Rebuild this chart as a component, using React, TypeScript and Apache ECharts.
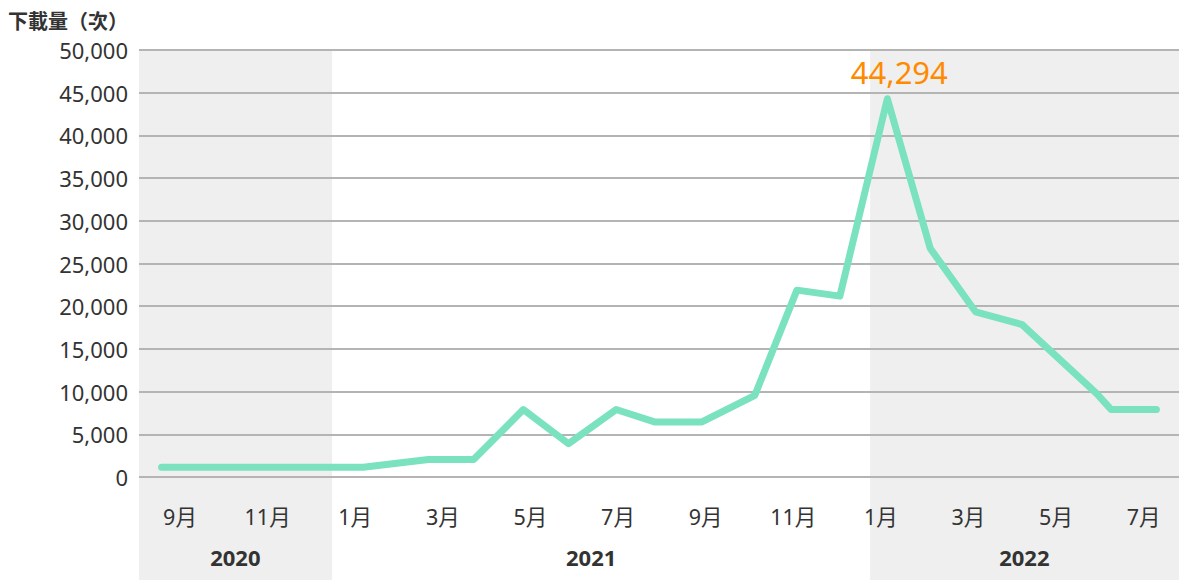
import React, { useEffect, useRef } from "react";
import * as echarts from "echarts";

// ---------------- data ----------------
// month tick labels (every second month, Sep 2020 → Jul 2022)
const MONTH_LABELS = ["9月", "11月", "1月", "3月", "5月", "7月", "9月", "11月", "1月", "3月", "5月", "7月"];
// year labels under the month labels
const YEAR_LABELS = ["2020", "2021", "2022"];
// position of each measured point, in months after Sep 2020 (0 = Sep 2020, 22 = Jul 2022)
const POINT_MONTH = [0, 1, 2, 3, 4.46, 5.9, 6.9, 8, 9, 10.05, 10.9, 11.95, 13.12, 14.05, 15, 16.05, 17, 18, 19.03, 20.68, 21, 22];
// downloads at each point
const DOWNLOADS = [1150, 1150, 1150, 1150, 1150, 2050, 2050, 7900, 3900, 7900, 6450, 6450, 9570, 21880, 21180, 44294, 26760, 19340, 17850, 9770, 7900, 7900];
// y axis
const Y_MIN = 0;
const Y_MAX = 50000;
const Y_STEP = 5000;

// ---------------- layout ----------------
const W = 1179;
const H = 580;
const GRID_LEFT = 139;
const GRID_TOP = 50;
const GRID_BOTTOM_Y = 477;
const GRID_W = W - GRID_LEFT;
const X_MIN = -0.5;
const X_MAX = 22.5;
// shaded year bands (2020 and 2022), in month units of the data axis
const SHADED_SPANS: [number, number][] = [
  [-0.5, 3.77],
  [15.67, 22.5],
];
const YEAR_LABEL_AT = [1.63, 9.5, 19.08];
const MONTH_LABEL_X0 = 180;
const MONTH_LABEL_STEP = 87.6;
const MONTH_AXIS_MIN = -(MONTH_LABEL_X0 - GRID_LEFT) / MONTH_LABEL_STEP;
const MONTH_AXIS_MAX = MONTH_AXIS_MIN + GRID_W / MONTH_LABEL_STEP;

const FONT = "'Noto Sans', 'Noto Sans CJK TC', sans-serif";
const CJK = "'Noto Sans CJK TC', 'Noto Sans', sans-serif";
const TEXT = "#333333";
const MINT = "#7ae2bf";
const ORANGE = "#ff8a00";
const BAND = "#efefef";
const GRIDLINE = "#b4b4b4";

const fmt = (v: number) => Number(v).toLocaleString("en-US");

export default function App() {
  const ref = useRef<HTMLDivElement>(null);

  useEffect(() => {
    if (!ref.current) return;
    const chart = echarts.init(ref.current, null, { renderer: "svg" });
    const lineData = POINT_MONTH.map((m, i) => [m, DOWNLOADS[i]]);
    const bandData = SHADED_SPANS.map(([a, b]) => [{ xAxis: a }, { xAxis: b }]);
    const hiddenAxisParts = {
      axisLine: { show: false },
      axisTick: { show: false },
      splitLine: { show: false },
    };

    const option: any = {
      animation: false,
      title: {
        text: "下載量（次）",
        left: 8,
        top: 10,
        padding: 0,
        textStyle: { fontSize: 20, fontWeight: "bold", color: TEXT, fontFamily: CJK },
      },
      grid: [
        { left: GRID_LEFT, right: 0, top: GRID_TOP, bottom: H - GRID_BOTTOM_Y },
        { left: GRID_LEFT, right: 0, top: GRID_BOTTOM_Y, bottom: 0 },
      ],
      xAxis: [
        {
          type: "value",
          gridIndex: 0,
          min: X_MIN,
          max: X_MAX,
          z: 3,
          ...hiddenAxisParts,
          axisLabel: {
            customValues: YEAR_LABEL_AT,
            formatter: (v: number) => {
              const i = YEAR_LABEL_AT.findIndex((p) => Math.abs(p - v) < 1e-6);
              return i >= 0 ? YEAR_LABELS[i] : "";
            },
            margin: 69,
            fontSize: 22,
            fontWeight: "bold",
            color: TEXT,
            fontFamily: FONT,
          },
        },
        {
          type: "value",
          gridIndex: 0,
          position: "bottom",
          min: MONTH_AXIS_MIN,
          max: MONTH_AXIS_MAX,
          z: 3,
          ...hiddenAxisParts,
          axisLabel: {
            customValues: MONTH_LABELS.map((_, i) => i),
            formatter: (v: number) => MONTH_LABELS[Math.round(v)] ?? "",
            margin: 29,
            fontSize: 21.5,
            color: TEXT,
            fontFamily: FONT,
          },
        },
        { type: "value", gridIndex: 1, min: X_MIN, max: X_MAX, show: false },
      ],
      yAxis: [
        {
          type: "value",
          gridIndex: 0,
          min: Y_MIN,
          max: Y_MAX,
          interval: Y_STEP,
          z: 3,
          axisLine: { show: false },
          axisTick: { show: false },
          axisLabel: { fontSize: 22, color: TEXT, margin: 11, fontFamily: FONT, formatter: fmt },
          splitLine: { lineStyle: { color: GRIDLINE, width: 2 } },
        },
        { type: "value", gridIndex: 1, min: 0, max: 1, show: false },
      ],
      series: [
        {
          type: "line",
          xAxisIndex: 0,
          yAxisIndex: 0,
          data: [],
          z: 1,
          silent: true,
          markArea: { silent: true, itemStyle: { color: BAND }, data: bandData },
        },
        {
          type: "line",
          xAxisIndex: 2,
          yAxisIndex: 1,
          data: [],
          z: 1,
          silent: true,
          markArea: { silent: true, itemStyle: { color: BAND }, data: bandData },
        },
        {
          type: "line",
          xAxisIndex: 0,
          yAxisIndex: 0,
          z: 5,
          data: lineData,
          symbol: "none",
          lineStyle: { color: MINT, width: 7, cap: "round", join: "round" },
          markPoint: {
            symbol: "circle",
            symbolSize: 0,
            data: [{ type: "max", valueDim: "y" }],
            label: {
              show: true,
              position: "top",
              distance: 11,
              offset: [12, 0],
              formatter: (p: any) => fmt(p.value),
              fontSize: 31,
              color: ORANGE,
              fontFamily: FONT,
            },
          },
        },
      ],
    };

    chart.setOption(option);
    return () => chart.dispose();
  }, []);

  return (
    <div
      ref={ref}
      style={{ position: "fixed", left: 0, top: 0, width: W, height: H, background: "#ffffff" }}
    />
  );
}
